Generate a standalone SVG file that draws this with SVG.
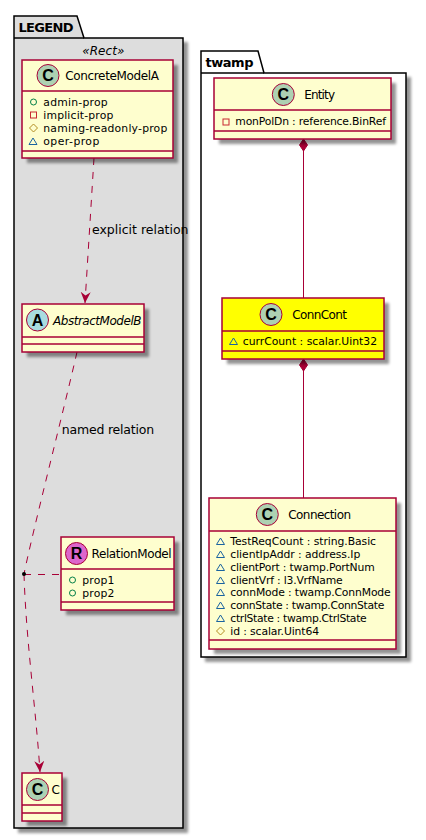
<svg xmlns="http://www.w3.org/2000/svg" width="426" height="840" viewBox="0 0 426 840">
<defs>
<style>
text{font-family:"DejaVu Sans","Liberation Sans",sans-serif;fill:#000}
.n{font-size:12px}
.a{font-size:10.8px}
.l{font-size:12.5px}
.pt{font-size:13px;font-weight:bold}
.box{fill:#FEFECE;stroke:#A80036;stroke-width:1.5}
.y{fill:#FFFF00}
.c{stroke:#A80036;stroke-width:1;fill:none}
.dash{stroke-dasharray:7 7}
.pk{stroke:#000;stroke-width:1.5}
.sh{fill:#000;opacity:.42;filter:url(#b)}
.sp{stroke:#A80036;stroke-width:1.5}
.g{font-family:"Liberation Sans",sans-serif;font-size:16px;font-weight:bold;text-anchor:middle}
.pub{fill:none;stroke:#038048}
.pri{fill:none;stroke:#C82930}
.pro{fill:none;stroke:#B38D22}
.pkg{fill:none;stroke:#1963A0}
</style>
<filter id="b" x="-10%" y="-10%" width="120%" height="120%"><feGaussianBlur stdDeviation="1.5"/></filter>
<marker id="ar" markerUnits="userSpaceOnUse" markerWidth="14" markerHeight="12" refX="11" refY="5" orient="auto"><path d="M0 0L11 5L0 10L3.500 5Z" fill="#A80036"/></marker>
<g id="tri"><path class="pkg" d="M0 7.500L4 1L8 7.500Z"/></g>
</defs>

<g id="pkg-legend">
<path class="sh" d="M18 42H188V833H18Z"/>
<path d="M14 38V16H77L84 38H183V828H14Z" fill="#DDDDDD" class="pk"/>
<path d="M14 38H84" class="pk" fill="none"/>
<text class="pt" x="18.500" y="32" textLength="55">LEGEND</text>
<text x="82.300" y="55" font-size="12" font-style="italic" textLength="42">«Rect»</text>
</g>
<g id="pkg-twamp">
<path class="sh" d="M205 77H411V662H205Z"/>
<path d="M201 73V51H258L264 73H406V657H201Z" fill="#FFFFFF" class="pk"/>
<path d="M201 73H264" class="pk" fill="none"/>
<text class="pt" x="205.500" y="67" textLength="48">twamp</text>
</g>

<g id="connectors">
<path class="c dash" d="M94 158L85 303" marker-end="url(#ar)"/>
<path class="c dash" d="M77 352C65 405 33 530 24 574"/>
<path class="c dash" d="M24 574C26 640 36 710 40 772" marker-end="url(#ar)"/>
<path class="c dash" d="M24 574.500H61"/>
<circle cx="24" cy="574" r="2" fill="#000"/>
<path class="c" d="M303.500 150V298"/>
<path d="M303.500 139L307.500 145L303.500 151L299.500 145Z" fill="#A80036" stroke="#A80036"/>
<path class="c" d="M303.500 370V498"/>
<path d="M303.500 359L307.500 365L303.500 371L299.500 365Z" fill="#A80036" stroke="#A80036"/>
<text class="l" x="92" y="234" textLength="96.500">explicit relation</text>
<text class="l" x="61.700" y="434" textLength="92.500">named relation</text>
</g>

<g id="ConcreteModelA">
<rect class="sh" x="27" y="65" width="151" height="98"/>
<rect class="box" x="22" y="60" width="151" height="98"/>
<path class="sp" d="M22 91H173M22 151H173"/>
<circle cx="48" cy="75.500" r="11" fill="#ADD1B2" stroke="#A80036"/>
<text class="g" x="48" y="81">C</text>
<text class="n" x="65.300" y="80" textLength="93.700">ConcreteModelA</text>
<circle cx="33.500" cy="102" r="3" class="pub"/>
<text class="a" x="43.300" y="106" textLength="64.400">admin-prop</text>
<rect x="30.500" y="112" width="6" height="6" class="pri"/>
<text class="a" x="43.300" y="119" textLength="70">implicit-prop</text>
<path d="M33.500 124L37.500 128L33.500 132L29.500 128Z" class="pro"/>
<text class="a" x="43.300" y="132" textLength="124">naming-readonly-prop</text>
<use href="#tri" x="29" y="137"/>
<text class="a" x="43.300" y="145" textLength="56">oper-prop</text>
</g>

<g id="AbstractModelB">
<rect class="sh" x="27" y="309" width="122" height="48"/>
<rect class="box" x="22" y="304" width="122" height="48"/>
<path class="sp" d="M22 337H144M22 344H144"/>
<circle cx="37.500" cy="320" r="11" fill="#A9DCDF" stroke="#A80036"/>
<text class="g" x="37.500" y="326">A</text>
<text class="n" x="53" y="325" font-style="italic" textLength="88.500">AbstractModelB</text>
</g>

<g id="RelationModel">
<rect class="sh" x="66" y="542" width="113" height="73"/>
<rect class="box" x="61" y="537" width="113" height="73"/>
<path class="sp" d="M61 569H174M61 602H174"/>
<circle cx="76.500" cy="553.500" r="11" fill="#DD66CC" stroke="#A80036"/>
<text class="g" x="76.500" y="559">R</text>
<text class="n" x="91.500" y="558" textLength="80.200">RelationModel</text>
<circle cx="72.500" cy="580" r="3" class="pub"/>
<text class="a" x="82.300" y="584" textLength="32">prop1</text>
<circle cx="72.500" cy="593" r="3" class="pub"/>
<text class="a" x="82.300" y="597" textLength="32">prop2</text>
</g>

<g id="C">
<rect class="sh" x="27" y="778" width="40" height="48"/>
<rect class="box" x="22" y="773" width="40" height="48"/>
<path class="sp" d="M22 805H62M22 813H62"/>
<circle cx="37.500" cy="789.500" r="11" fill="#ADD1B2" stroke="#A80036"/>
<text class="g" x="37.500" y="795">C</text>
<text class="n" x="51.500" y="794" textLength="7.500">C</text>
</g>

<g id="Entity">
<rect class="sh" x="219" y="83" width="177" height="61"/>
<rect class="box" x="214" y="78" width="177" height="61"/>
<path class="sp" d="M214 110H391M214 131H391"/>
<circle cx="283.300" cy="94.500" r="11" fill="#ADD1B2" stroke="#A80036"/>
<text class="g" x="283.300" y="100">C</text>
<text class="n" x="304.300" y="99" textLength="30.700">Entity</text>
<rect x="223" y="119" width="6" height="6" class="pri"/>
<text class="a" x="235.300" y="125" textLength="150.700">monPolDn : reference.BinRef</text>
</g>

<g id="ConnCont">
<rect class="sh" x="227" y="303" width="162" height="61"/>
<rect class="box y" x="222" y="298" width="162" height="61"/>
<path class="sp" d="M222 331H384M222 351H384"/>
<circle cx="271" cy="314.500" r="11" fill="#ADD1B2" stroke="#A80036"/>
<text class="g" x="271" y="320">C</text>
<text class="n" x="292.300" y="319" textLength="54.700">ConnCont</text>
<use href="#tri" x="229.500" y="337"/>
<text class="a" x="242.700" y="345" textLength="134.300">currCount : scalar.Uint32</text>
</g>

<g id="Connection">
<rect class="sh" x="214" y="503" width="187" height="151"/>
<rect class="box" x="209" y="498" width="187" height="151"/>
<path class="sp" d="M209 531H396M209 640H396"/>
<circle cx="267.300" cy="514.500" r="11" fill="#ADD1B2" stroke="#A80036"/>
<text class="g" x="267.300" y="520">C</text>
<text class="n" x="288.300" y="519" textLength="62.700">Connection</text>
<use href="#tri" x="216.500" y="537"/>
<text class="a" x="230.300" y="545" textLength="145.700">TestReqCount : string.Basic</text>
<use href="#tri" x="216.500" y="550"/>
<text class="a" x="230.300" y="558" textLength="130">clientIpAddr : address.Ip</text>
<use href="#tri" x="216.500" y="563"/>
<text class="a" x="230.300" y="571" textLength="144.400">clientPort : twamp.PortNum</text>
<use href="#tri" x="216.500" y="576"/>
<text class="a" x="230.300" y="584" textLength="112.400">clientVrf : l3.VrfName</text>
<use href="#tri" x="216.500" y="588"/>
<text class="a" x="230.300" y="596" textLength="160.400">connMode : twamp.ConnMode</text>
<use href="#tri" x="216.500" y="601"/>
<text class="a" x="230.300" y="609" textLength="154">connState : twamp.ConnState</text>
<use href="#tri" x="216.500" y="614"/>
<text class="a" x="230.300" y="622" textLength="136.400">ctrlState : twamp.CtrlState</text>
<path d="M220.500 627L224.500 631L220.500 635L216.500 631Z" class="pro"/>
<text class="a" x="230.300" y="635" textLength="88.700">id : scalar.Uint64</text>
</g>
</svg>
